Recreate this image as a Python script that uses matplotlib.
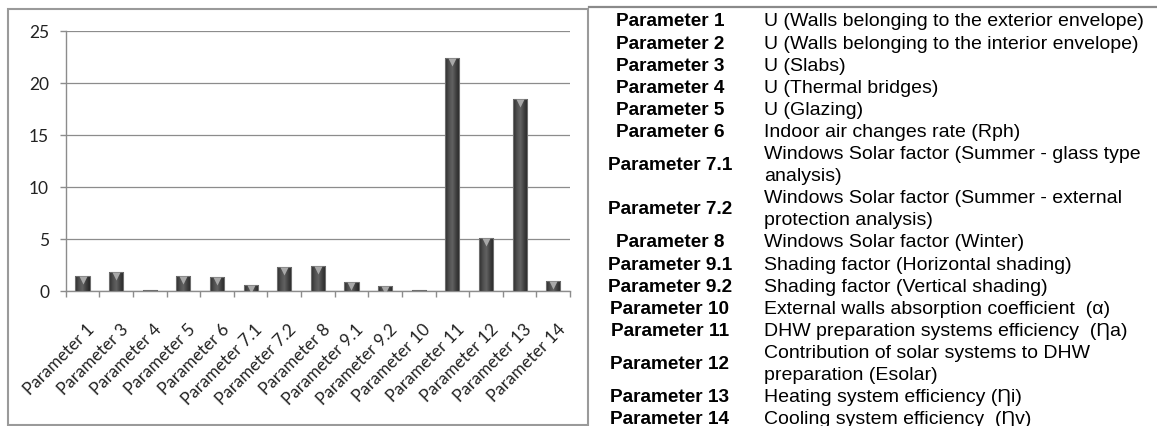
import numpy as np
import matplotlib
matplotlib.use("Agg")
import matplotlib.pyplot as plt
from matplotlib.patches import Rectangle
from matplotlib.lines import Line2D
from matplotlib.colors import LinearSegmentedColormap
from matplotlib.transforms import ScaledTranslation

# bar chart data
params = ["Parameter 1", "Parameter 3", "Parameter 4", "Parameter 5", "Parameter 6",
          "Parameter 7.1", "Parameter 7.2", "Parameter 8", "Parameter 9.1", "Parameter 9.2",
          "Parameter 10", "Parameter 11", "Parameter 12", "Parameter 13", "Parameter 14"]
values = [1.45, 1.8, 0.05, 1.4, 1.35, 0.55, 2.3, 2.45, 0.9, 0.45, 0.05, 22.4, 5.1, 18.5, 1.0]
yticks = [0, 5, 10, 15, 20, 25]

# legend table on the right
table_labels = ["Parameter 1", "Parameter 2", "Parameter 3", "Parameter 4", "Parameter 5",
                "Parameter 6", "Parameter 7.1", "Parameter 7.2", "Parameter 8", "Parameter 9.1",
                "Parameter 9.2", "Parameter 10", "Parameter 11", "Parameter 12", "Parameter 13",
                "Parameter 14"]
table_texts = [
    "U (Walls belonging to the exterior envelope)",
    "U (Walls belonging to the interior envelope)",
    "U (Slabs)",
    "U (Thermal bridges)",
    "U (Glazing)",
    "Indoor air changes rate (Rph)",
    "Windows Solar factor (Summer - glass type\nanalysis)",
    "Windows Solar factor (Summer - external\nprotection analysis)",
    "Windows Solar factor (Winter)",
    "Shading factor (Horizontal shading)",
    "Shading factor (Vertical shading)",
    "External walls absorption coefficient  (\u03b1)",
    "DHW preparation systems efficiency  (\u0220a)",
    "Contribution of solar systems to DHW\npreparation (Esolar)",
    "Heating system efficiency (\u0220i)",
    "Cooling system efficiency  (\u0220v)",
]

W, H = 1157, 427
fig = plt.figure(figsize=(W / 100, H / 100), dpi=100)
fig.patch.set_facecolor("white")

ax = fig.add_axes([65.7 / W, 1 - 292 / H, (570 - 65.7) / W, (292 - 32) / H])

x = np.arange(len(params))
bars = ax.bar(x, values, width=0.42, facecolor="none", edgecolor="#6e6e6e", linewidth=0.8, zorder=4)

# cylinder-ish shading inside each bar
cmap = LinearSegmentedColormap.from_list("barshade", ["#2a2a2a", "#4e4e4e", "#626262", "#404040", "#252525"])
grad = np.linspace(0, 1, 64).reshape(1, -1)
for b in bars:
    x0, w, h = b.get_x(), b.get_width(), b.get_height()
    im = ax.imshow(grad, extent=[x0, x0 + w, 0, h], cmap=cmap, aspect="auto", zorder=3)
    im.set_clip_path(b)

# light triangle on top of the bars
shift = ScaledTranslation(0, -4 / 100, fig.dpi_scale_trans)
tx = [xi for xi, v in zip(x, values) if v > 0.3]
tv = [v for v in values if v > 0.3]
ax.plot(tx, tv, ls="none", marker="v", ms=6, color="#a8a8a8", mec="none",
        transform=ax.transData + shift, zorder=5)

ax.set_xlim(-0.5, len(params) - 0.5)
ax.set_ylim(0, 25)
ax.set_yticks(yticks)
ax.set_yticklabels([str(t) for t in yticks], fontsize=12.5, family="Lato", color="#222222")
ax.tick_params(axis="y", length=4, width=1, color="#8c8c8c", pad=8)
ax.grid(axis="y", color="#8c8c8c", linewidth=0.9, zorder=0)
ax.set_axisbelow(True)

ax.set_xticks(x)
ax.set_xticks(np.arange(-0.5, len(params)), minor=True)
ax.set_xticklabels(params, rotation=45, ha="right", va="top", rotation_mode="anchor",
                   fontsize=12.3, family="Lato", color="#222222")
ax.tick_params(axis="x", which="major", length=0, pad=21)
ax.tick_params(axis="x", which="minor", length=4, width=1, color="#8c8c8c")
for lbl in ax.get_xticklabels():
    lbl.set_transform(lbl.get_transform() + ScaledTranslation(4 / 100, 0, fig.dpi_scale_trans))

for s in ["top", "right"]:
    ax.spines[s].set_visible(False)
for s in ["left", "bottom"]:
    ax.spines[s].set_color("#8c8c8c")
    ax.spines[s].set_linewidth(1)

# frame round the chart and line above the table
fig.add_artist(Rectangle((7.7 / W, 1 - 425.5 / H), (588 - 7.7) / W, (425.5 - 10) / H,
                         transform=fig.transFigure, fill=False, ec="#9a9a9a", lw=1.5))
fig.add_artist(Line2D([589 / W, 1], [1 - 8 / H, 1 - 8 / H], transform=fig.transFigure,
                      color="#8a8a8a", lw=1.6))

# table text, one line every 22.1 px
fam = ["Liberation Sans", "DejaVu Sans"]
line = 0
for lab, txt in zip(table_labels, table_texts):
    parts = txt.split("\n")
    ys = [20 + 22.1 * (line + k) for k in range(len(parts))]
    for yy, p in zip(ys, parts):
        fig.text(764 / W, 1 - yy / H, p, ha="left", va="center_baseline", fontsize=14,
                 family=fam, color="black")
    fig.text(670 / W, 1 - np.mean(ys) / H, lab, ha="center", va="center_baseline",
             fontsize=13.7, family=fam, weight="bold", color="black")
    line += len(parts)

fig.savefig("out.png", dpi=100)
